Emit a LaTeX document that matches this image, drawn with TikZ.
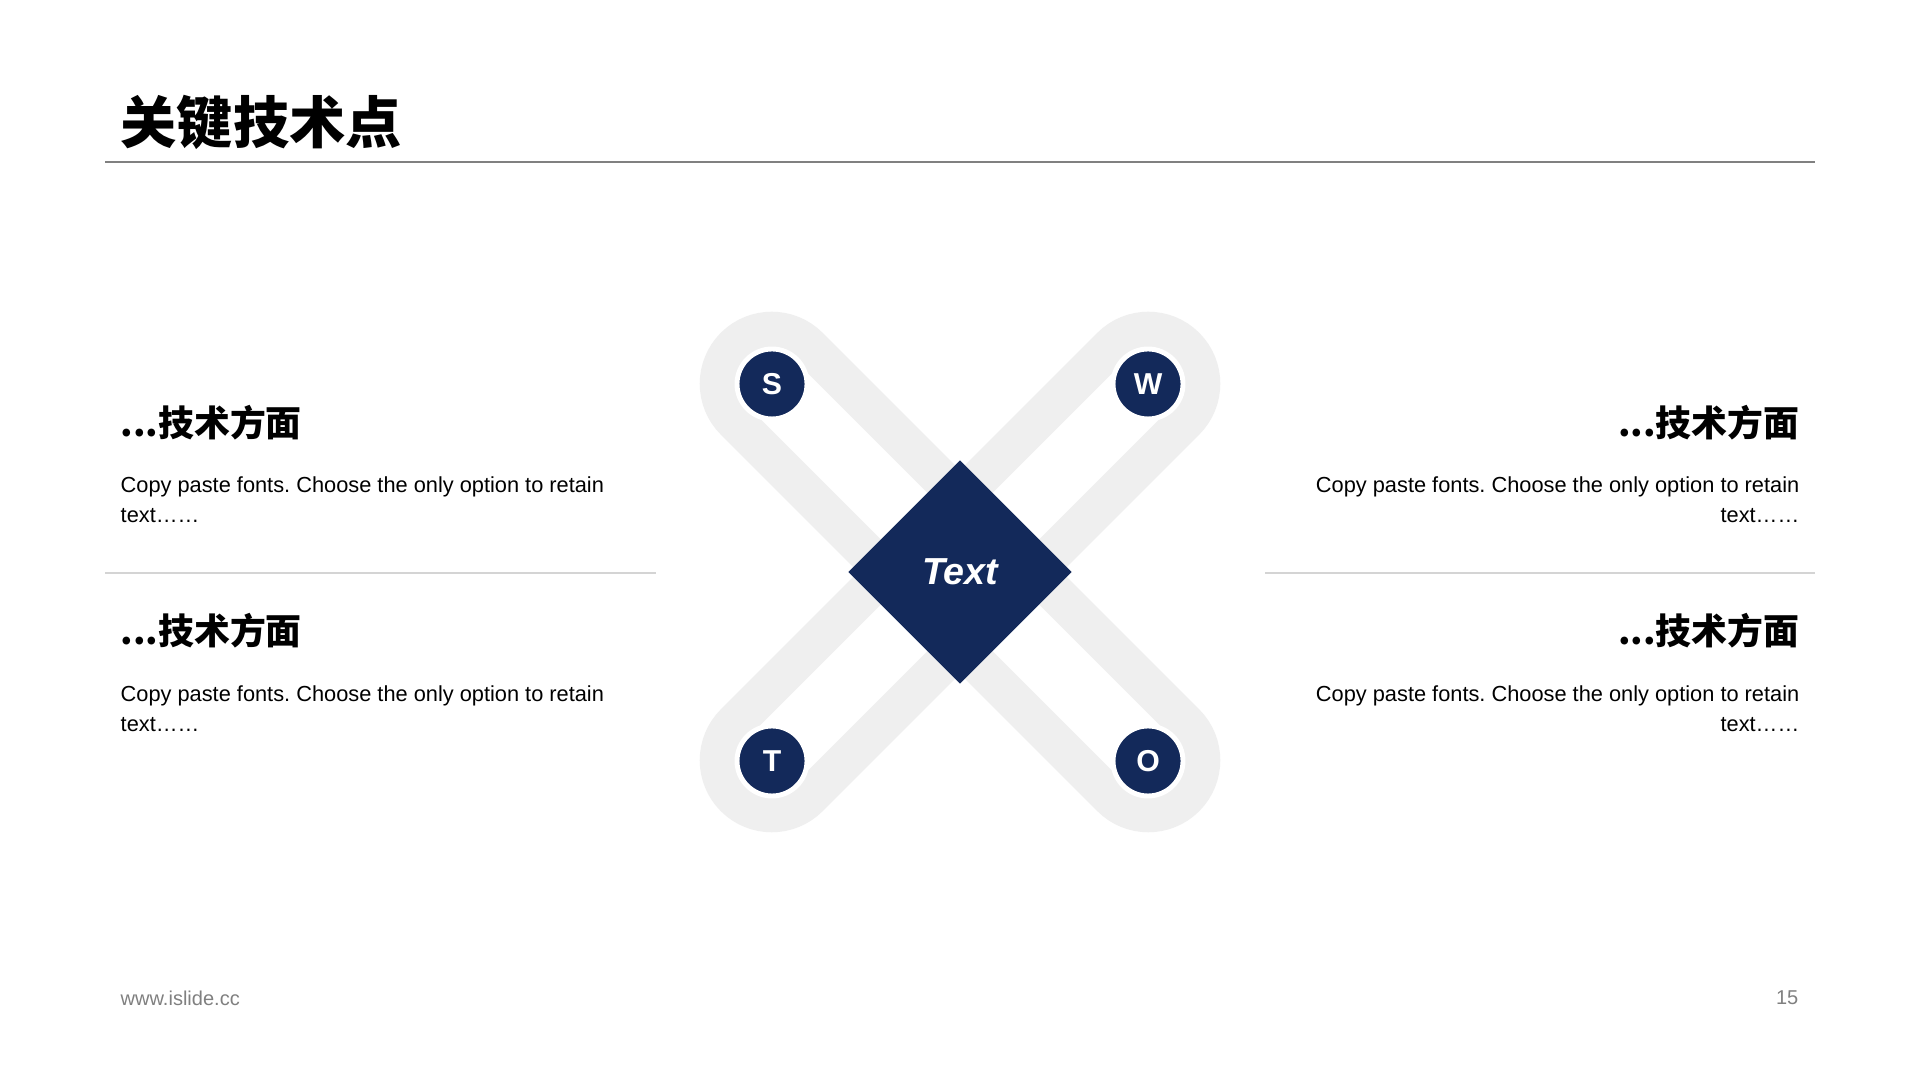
\documentclass[tikz,border=0pt]{standalone}
\usepackage{fontspec}
\setmainfont{Liberation Sans}
\newfontfamily\cjk{Noto Sans CJK SC}
\usepackage{tikz}
\usetikzlibrary{shapes.geometric,shapes.misc}
\definecolor{navy}{HTML}{13295A}
\definecolor{bandgrey}{HTML}{EFEFEF}
\definecolor{rulegrey}{HTML}{D4D4D4}
\definecolor{footgrey}{HTML}{808080}
\frenchspacing

\begin{document}
\begin{tikzpicture}[
    lettercircle/.style={circle,fill=navy,draw=white,line width=1.4pt,minimum size=.70cm,inner sep=0pt,text=white,font=\bfseries\fontsize{8.6}{8.6}\selectfont},
    xband/.style={rounded rectangle,draw=bandgrey,line width=.39cm,minimum width=6.375cm,minimum height=1.05cm,inner sep=0pt},
    headtext/.style={font=\cjk\bfseries\fontsize{10.2}{12}\selectfont,inner sep=0pt},
    bodytext/.style={font=\fontsize{6.2}{8.5}\selectfont,inner sep=0pt},
    footer/.style={font=\fontsize{5.7}{7}\selectfont,text=footgrey,inner sep=0pt}]
      \fill[white] (0,0) rectangle (19.2,10.8);

      % title
      \node (title) at (1.20,9.58) [anchor=west,inner sep=0pt,font=\cjk\bfseries\fontsize{16}{19}\selectfont] {关键技术点};
      \draw[footgrey,line width=.4pt] (1.05,9.18) -- (18.15,9.18);

      % the X
      \coordinate (c) at (9.60,5.08);
      \coordinate (s) at (7.72,6.96);
      \coordinate (w) at (11.48,6.96);
      \coordinate (t) at (7.72,3.19);
      \coordinate (o) at (11.48,3.19);
      \node (so) at (c) [xband,rotate=-45] {};
      \node (wt) at (c) [xband,rotate=45] {};

      \node (S) at (s) [lettercircle] {S};
      \node (W) at (w) [lettercircle] {W};
      \node (T) at (t) [lettercircle] {T};
      \node (O) at (o) [lettercircle] {O};
      \node (mid) at (c) [diamond,fill=navy,minimum size=2.24cm,inner sep=0pt,shape aspect=1,text=white,font=\bfseries\itshape\fontsize{10.7}{12}\selectfont] {Text};

      % left column
      \node (h1) at (1.20,6.575) [anchor=west,headtext] {...技术方面};
      \node (b1) at (1.20,5.80) [anchor=west,align=left,bodytext] {Copy paste fonts. Choose the only option to retain\\text……};
      \draw[rulegrey,line width=.4pt] (1.05,5.07) -- (6.56,5.07);
      \node (h2) at (1.20,4.49) [anchor=west,headtext] {...技术方面};
      \node (b2) at (1.20,3.715) [anchor=west,align=left,bodytext] {Copy paste fonts. Choose the only option to retain\\text……};

      % right column
      \node (h3) at (18.00,6.575) [anchor=east,headtext] {...技术方面};
      \node (b3) at (18.00,5.80) [anchor=east,align=right,bodytext] {Copy paste fonts. Choose the only option to retain\\text……};
      \draw[rulegrey,line width=.4pt] (12.65,5.07) -- (18.15,5.07);
      \node (h4) at (18.00,4.49) [anchor=east,headtext] {...技术方面};
      \node (b4) at (18.00,3.715) [anchor=east,align=right,bodytext] {Copy paste fonts. Choose the only option to retain\\text……};

      % footer
      \node (url) at (1.20,0.82) [anchor=west,footer] {www.islide.cc};
      \node (page) at (17.99,0.82) [anchor=east,footer] {15};
\end{tikzpicture}
\end{document}
